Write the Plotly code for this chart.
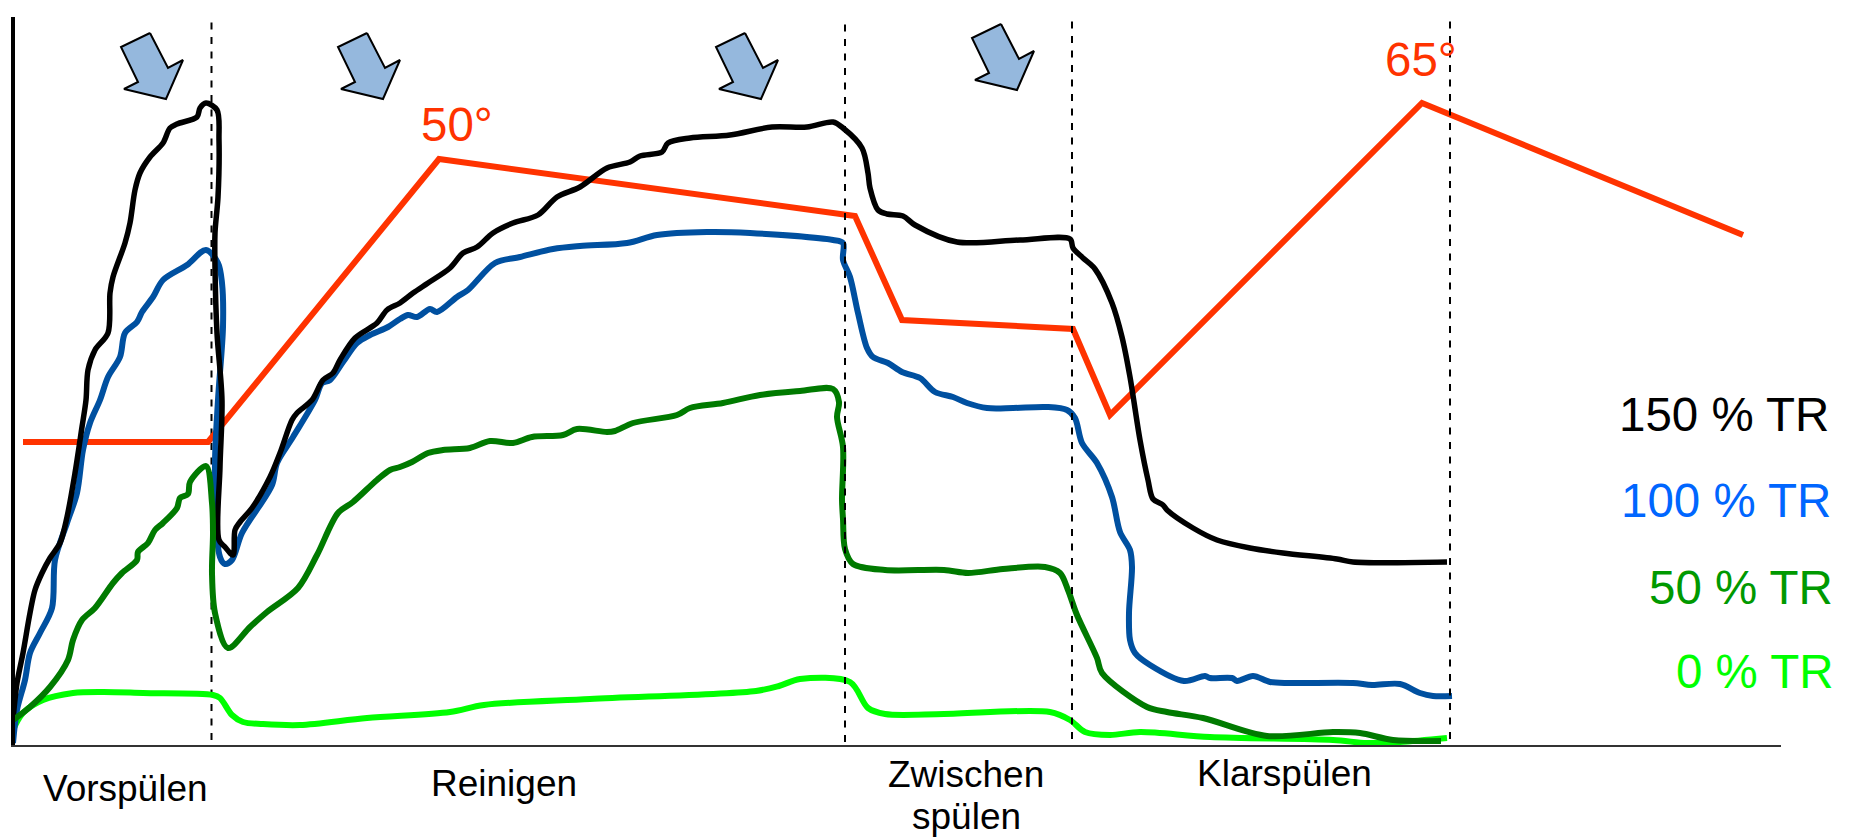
import plotly.graph_objects as go

# Horizontal axis: process time (arbitrary units); vertical axis: signal height above the baseline (arbitrary units)
tr150_x = [13,17,23,30,35,42,50,60,67,75,82,86,88,95,108,110,113,125,130,135,140,150,163,170,177,197,200,206,217,219,218,215,215,217,222,220,219,225,233,235,240,252,270,280,292,297,312,323,333,340,355,377,387,400,413,428,450,463,477,493,513,538,557,580,607,630,640,662,668,690,730,772,807,833,843,862,868,870,878,887,903,915,957,1020,1070,1073,1083,1095,1112,1122,1130,1140,1148,1153,1163,1167,1193,1217,1250,1283,1337,1353,1447]
tr150_y = [26,63,93,133,156,173,188,203,229,273,319,346,376,396,413,453,469,503,523,556,573,589,603,618,622,629,638,643,636,606,549,513,479,413,346,279,206,199,191,216,224,238,269,293,326,333,346,366,373,386,408,423,436,443,453,463,478,493,499,513,523,531,549,559,578,584,590,594,603,608,611,619,619,624,618,598,573,558,536,532,530,521,504,506,507,498,488,477,443,409,369,306,266,247,241,236,218,206,198,193,187,184,184]

tr100_x = [13,17,25,30,40,52,55,67,77,83,90,100,108,120,125,137,142,153,163,187,206,218,222,223,218,215,220,225,232,242,272,277,293,315,322,330,343,357,370,388,400,408,417,430,437,457,468,495,520,553,580,627,657,707,750,833,843,843,850,858,867,873,888,902,920,935,953,967,987,1013,1047,1067,1075,1082,1097,1112,1120,1130,1132,1129,1130,1135,1150,1184,1205,1210,1232,1237,1253,1270,1290,1353,1372,1400,1420,1433,1452]
tr100_y = [3,36,66,93,113,138,186,223,253,296,323,346,369,389,413,424,434,449,466,481,496,483,463,419,346,279,189,182,186,213,261,283,309,346,363,366,384,403,411,419,427,431,429,437,434,449,456,483,489,497,500,503,511,514,513,506,503,486,469,433,398,389,383,374,368,354,349,343,338,338,339,336,328,303,283,249,214,196,179,133,106,93,81,65,70,68,68,65,70,64,63,63,61,62,53,50,50]

tr50_x = [9,30,50,68,73,82,95,113,122,137,138,148,155,163,177,180,188,190,206,212,213,212,215,228,250,267,298,317,338,353,377,390,400,412,428,443,470,490,513,532,563,577,607,615,633,677,690,723,760,800,833,839,837,843,842,843,845,853,885,944,968,1003,1045,1060,1068,1077,1097,1102,1147,1167,1203,1267,1333,1360,1393,1441]
tr50_y = [23,39,59,86,106,126,138,163,173,186,194,203,216,223,238,248,252,264,280,243,213,173,133,98,119,134,158,191,233,244,266,276,279,284,293,296,298,305,303,309,311,317,314,315,323,331,338,343,351,355,357,344,329,299,246,227,197,182,176,176,173,177,179,173,156,131,88,73,39,34,28,10,14,13,6,5]

tr0_x = [12,23,43,73,103,143,213,220,232,243,263,300,367,450,484,590,756,779,800,850,868,885,944,1050,1070,1085,1110,1140,1210,1333,1367,1400,1447]
tr0_y = [14,33,46,53,54,53,51,48,31,24,22,21,28,34,41,47,55,60,67,64,38,32,32,34,26,14,11,14,9,6,3,4,8]

temp_x = [23,208,439,855,902,1073,1110,1422,1743]
temp_y = [304,304,587,530,426,417,331,643,511]

phase_ends = [211.5,845,1072,1450]
phase_tops = [738,736,739,739]

arrow_x = [150,168,183,166,124,138,121,150]
arrow_y = [713,678,686,647,657,664,699,713]
arrow_dx = [0,217,595,851]
arrow_dy = [0,0,0,9]

# text, x, y, font size, colour, xanchor
labels = [
    ("Vorspülen",125,-42,37,"#000000","center"),
    ("Reinigen",504,-37,37,"#000000","center"),
    ("Zwischen",966,-28,37,"#000000","center"),
    ("spülen",966,-70,37,"#000000","center"),
    ("Klarspülen",1284,-27,37,"#000000","center"),
    ("150 % TR",1830,332,47.5,"#000000","right"),
    ("100 % TR",1832,246,47.5,"#0066FF","right"),
    ("50 % TR",1834,159,47.5,"#009900","right"),
    ("0 % TR",1835,75,47.5,"#00FF00","right"),
    ("50°",420,622,47.5,"#FF3300","left"),
    ("65°",1384,687,47.5,"#FF3300","left"),
]

X_RANGE = [15,1781]
Y_RANGE = [1,729]

fig = go.Figure()

def curve(x, y, color, width, shape="spline"):
    line = dict(color=color, width=width, shape=shape)
    if shape == "spline":
        line["smoothing"] = 0.9
    fig.add_trace(go.Scatter(x=x, y=y, mode="lines", line=line, cliponaxis=False, showlegend=False, hoverinfo="skip"))

def phase(i):
    fig.add_trace(go.Scatter(x=[phase_ends[i],phase_ends[i]], y=[phase_tops[i],1], mode="lines",
                             line=dict(color="#000000", width=2, dash="7px,7.5px"),
                             cliponaxis=False, showlegend=False, hoverinfo="skip"))

phase(0)
curve(temp_x, temp_y, "#FF3300", 6, "linear")
curve(tr0_x, tr0_y, "#00FF00", 6)
curve(tr100_x, tr100_y, "#0050A0", 6)
curve(tr150_x, tr150_y, "#000000", 5.5)
curve(tr50_x, tr50_y, "#007A00", 6)
for i in (1,2,3):
    phase(i)

for dx, dy in zip(arrow_dx, arrow_dy):
    fig.add_trace(go.Scatter(x=[v+dx for v in arrow_x], y=[v+dy for v in arrow_y], mode="lines",
                             fill="toself", fillcolor="#95B8DD", line=dict(color="#000000", width=2),
                             cliponaxis=False, showlegend=False, hoverinfo="skip"))

for text, x, y, size, color, anchor in labels:
    fig.add_annotation(x=(x-X_RANGE[0])/(X_RANGE[1]-X_RANGE[0]), y=(y-Y_RANGE[0])/(Y_RANGE[1]-Y_RANGE[0]),
                       xref="paper", yref="paper", text=text, showarrow=False, xanchor=anchor, yanchor="middle",
                       borderpad=0, font=dict(family="Liberation Sans", size=size, color=color))

fig.update_layout(
    width=1851, height=837, autosize=False,
    margin=dict(l=15, r=70, t=17, b=92, pad=0),
    plot_bgcolor="#FFFFFF", paper_bgcolor="#FFFFFF", showlegend=False,
    xaxis=dict(range=X_RANGE, showgrid=False, zeroline=False, showticklabels=False, ticks="",
               showline=True, linecolor="#333333", linewidth=2),
    yaxis=dict(range=Y_RANGE, showgrid=False, zeroline=False, showticklabels=False, ticks="",
               showline=True, linecolor="#000000", linewidth=4),
)
fig.write_html("out.html", config={"displayModeBar": False},
               post_script="document.body.style.margin='0';document.body.style.overflow='hidden';")
